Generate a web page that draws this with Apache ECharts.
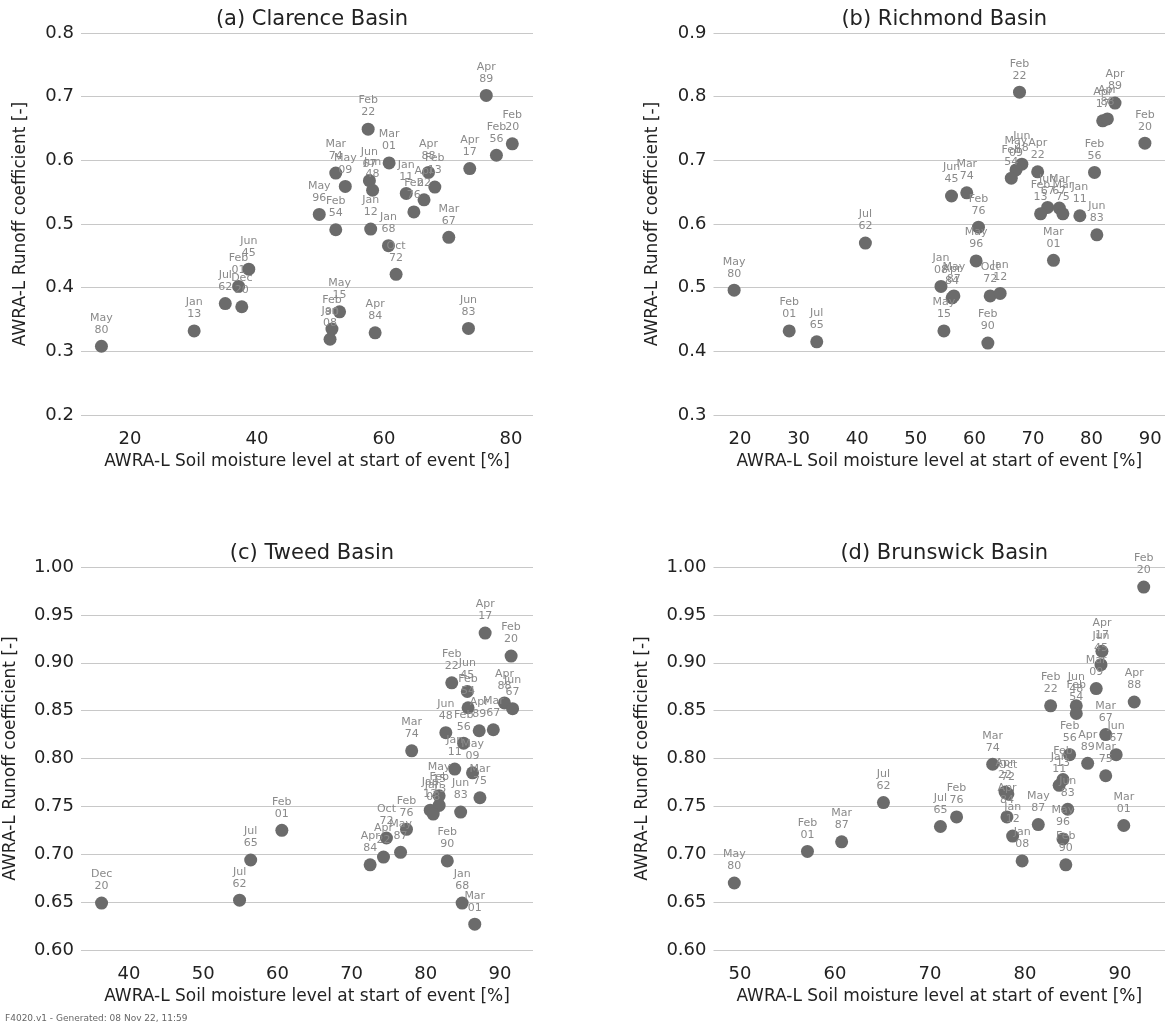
<!DOCTYPE html>
<html>
<head>
<meta charset="utf-8">
<script src="https://cdn.jsdelivr.net/npm/echarts@6/dist/echarts.min.js"></script>
<style>
html,body{margin:0;padding:0;background:#fff;}
#chart{width:1167px;height:1027px;}
</style>
</head>
<body>
<div id="chart"></div>
<script>
// ---------- (a) Clarence Basin ----------
var clarenceEvents = ['May 80','Jan 13','Jul 62','Dec 20','Feb 01','Jun 45','Apr 89','Feb 22','Feb 20','Feb 56','Mar 01','Apr 17','Mar 74','Jun 67','Apr 88','May 09','Jun 48','Feb 13','Apr 22','Jan 11','Feb 76','Mar 67','May 96','Feb 54','Jan 12','Jan 68','Oct 72','May 15','Feb 90','Jan 08','Apr 84','Jun 83'];
var clarenceSM = [15.5,30.1,35.0,37.6,37.1,38.7,76.1,57.5,80.2,77.7,60.8,73.5,52.4,57.7,67.0,53.9,58.2,68.0,66.3,63.5,64.7,70.2,49.8,52.4,57.9,60.7,61.9,53.0,51.8,51.5,58.6,73.3];
var clarenceRC = [0.308,0.332,0.375,0.370,0.402,0.429,0.702,0.649,0.626,0.608,0.596,0.587,0.580,0.568,0.581,0.559,0.553,0.558,0.538,0.548,0.519,0.479,0.515,0.491,0.492,0.466,0.421,0.362,0.335,0.319,0.329,0.336];

// ---------- (b) Richmond Basin ----------
var richmondEvents = ['May 80','Jul 62','Feb 01','Jul 65','Feb 22','Apr 89','Apr 17','Apr 88','Feb 20','Jun 48','May 09','Feb 54','Apr 22','Feb 56','Jun 45','Mar 74','Feb 76','Jun 67','Feb 13','Mar 67','Mar 75','Jan 11','Jun 83','Mar 01','May 96','Jan 08','Apr 84','May 87','May 15','Oct 72','Jan 12','Feb 90'];
var richmondSM = [19.0,41.4,28.4,33.1,67.7,84.0,81.9,82.7,89.1,68.1,67.1,66.3,70.8,80.5,56.1,58.7,60.7,72.5,71.3,74.5,75.1,78.0,80.9,73.5,60.3,54.3,56.2,56.5,54.8,62.7,64.4,62.3];
var richmondRC = [0.496,0.570,0.432,0.415,0.807,0.790,0.762,0.765,0.727,0.694,0.685,0.672,0.682,0.681,0.644,0.649,0.595,0.626,0.616,0.625,0.616,0.613,0.583,0.543,0.542,0.502,0.484,0.487,0.432,0.487,0.491,0.413];

// ---------- (c) Tweed Basin ----------
var tweedEvents = ['Dec 20','Jul 62','Jul 65','Feb 01','Apr 17','Feb 20','Feb 22','Jun 45','Feb 54','Apr 88','Jun 67','Jun 48','Apr 89','Mar 67','Feb 56','Mar 74','Jan 11','May 09','Mar 75','Jun 83','May 15','Feb 13','Jan 12','Jan 08','Feb 76','Oct 72','Apr 22','May 87','Apr 84','Feb 90','Jan 68','Mar 01'];
var tweedSM = [36.3,54.9,56.4,60.6,88.0,91.5,83.5,85.6,85.7,90.6,91.7,82.7,87.2,89.1,85.1,78.1,83.9,86.3,87.3,84.7,81.8,81.8,80.6,81.0,77.4,74.7,74.3,76.6,72.5,82.9,84.9,86.6];
var tweedRC = [0.649,0.652,0.694,0.725,0.931,0.907,0.879,0.870,0.853,0.858,0.852,0.827,0.829,0.830,0.816,0.808,0.789,0.785,0.759,0.744,0.761,0.751,0.746,0.742,0.726,0.717,0.697,0.702,0.689,0.693,0.649,0.627];

// ---------- (d) Brunswick Basin ----------
var brunswickEvents = ['May 80','Feb 01','Mar 87','Jul 62','Jul 65','Feb 76','Mar 74','Feb 20','Apr 17','Jun 45','Mar 09','Feb 22','Jun 48','Feb 54','Apr 88','Mar 67','Jun 67','Feb 56','Apr 89','Mar 75','Feb 13','Jan 11','Jun 83','Apr 22','Oct 72','Apr 84','Jan 12','May 87','May 96','Jan 08','Feb 90','Mar 01'];
var brunswickSM = [49.4,57.1,60.7,65.1,71.1,72.8,76.6,92.5,88.1,88.0,87.5,82.7,85.4,85.4,91.5,88.5,89.6,84.7,86.6,88.5,84.0,83.6,84.5,77.9,78.2,78.1,78.7,81.4,84.0,79.7,84.3,90.4];
var brunswickRC = [0.670,0.703,0.713,0.754,0.729,0.739,0.794,0.979,0.912,0.898,0.873,0.855,0.855,0.847,0.859,0.825,0.804,0.804,0.795,0.782,0.778,0.772,0.747,0.765,0.763,0.739,0.719,0.731,0.716,0.693,0.689,0.730];

// ---------- axis ticks / titles ----------
var titles = ['(a) Clarence Basin','(b) Richmond Basin','(c) Tweed Basin','(d) Brunswick Basin'];
var xTicksA = [20,40,60,80];
var xTicksB = [20,30,40,50,60,70,80,90];
var xTicksC = [40,50,60,70,80,90];
var xTicksD = [50,60,70,80,90];
var xName = 'AWRA-L Soil moisture level at start of event [%]';
var yName = 'AWRA-L Runoff coefficient [-]';

var FONT = 'DejaVu Sans, Liberation Sans, sans-serif';

var grids = [
  {left:81, top:33, width:452, height:382},
  {left:713.5, top:33, width:451.5, height:382},
  {left:81, top:567, width:452, height:383},
  {left:713.5, top:567, width:451.5, height:383}
];
var xRanges = [[12.28,83.46],[15.48,92.53],[33.53,94.45],[47.21,94.74]];
var xTickSets = [xTicksA,xTicksB,xTicksC,xTicksD];
var yRanges = [[0.2,0.8,0.1,1],[0.3,0.9,0.1,1],[0.6,1.0,0.05,2],[0.6,1.0,0.05,2]];
var sets = [
  [clarenceEvents,clarenceSM,clarenceRC],
  [richmondEvents,richmondSM,richmondRC],
  [tweedEvents,tweedSM,tweedRC],
  [brunswickEvents,brunswickSM,brunswickRC]
];

var option = {
  backgroundColor:'#ffffff',
  animation:false,
  title:[], grid:[], xAxis:[], yAxis:[], series:[],
  graphic:[{type:'text', left:5, top:1014, style:{text:'F4020.v1 - Generated: 08 Nov 22, 11:59', font:'9px '+FONT, fill:'#666'}}]
};

for (var i=0;i<4;i++){
  var g = grids[i];
  option.grid.push({left:g.left, top:g.top, width:g.width, height:g.height, containLabel:false});
  option.title.push({
    text:titles[i], left:g.left + g.width/2, top:g.top-29, textAlign:'center',
    textStyle:{fontFamily:FONT, fontSize:21, fontWeight:'normal', color:'#222'}
  });
  option.xAxis.push({
    type:'value', gridIndex:i, min:xRanges[i][0], max:xRanges[i][1],
    name:xName, nameLocation:'middle', nameGap:38,
    nameTextStyle:{fontFamily:FONT, fontSize:17, color:'#222'},
    axisLine:{show:false}, axisTick:{show:false},
    splitLine:{show:false},
    axisLabel:{customValues:xTickSets[i], fontFamily:FONT, fontSize:18, color:'#222', margin:15}
  });
  (function(dec){
    option.yAxis.push({
      type:'value', gridIndex:i, min:yRanges[i][0], max:yRanges[i][1], interval:yRanges[i][2],
      name:yName, nameLocation:'middle', nameGap: dec===1?52:62,
      nameTextStyle:{fontFamily:FONT, fontSize:17, color:'#222'},
      axisLine:{show:false}, axisTick:{show:false},
      splitLine:{show:true, showMinLine:true, showMaxLine:true, lineStyle:{color:'#c8c8c8', width:1}},
      axisLabel:{fontFamily:FONT, fontSize:18, color:'#222', margin:7,
        formatter:function(v){return v.toFixed(dec);}}
    });
  })(yRanges[i][3]);
  var ev = sets[i][0], xs = sets[i][1], ys = sets[i][2];
  var data = [];
  for (var k=0;k<ev.length;k++){
    data.push({name:ev[k], value:[xs[k], ys[k]]});
  }
  option.series.push({
    type:'scatter', xAxisIndex:i, yAxisIndex:i, data:data,
    symbolSize:13, itemStyle:{color:'#6b6b6b', opacity:1},
    label:{show:true, position:'top', distance:4, color:'#8a8a8a', fontFamily:FONT, fontSize:11, lineHeight:12,
      formatter:function(p){return p.name.replace(' ','\n');}},
    emphasis:{disabled:true}
  });
}

var chart = echarts.init(document.getElementById('chart'), null, {renderer:'canvas'});
chart.setOption(option);
</script>
</body>
</html>
